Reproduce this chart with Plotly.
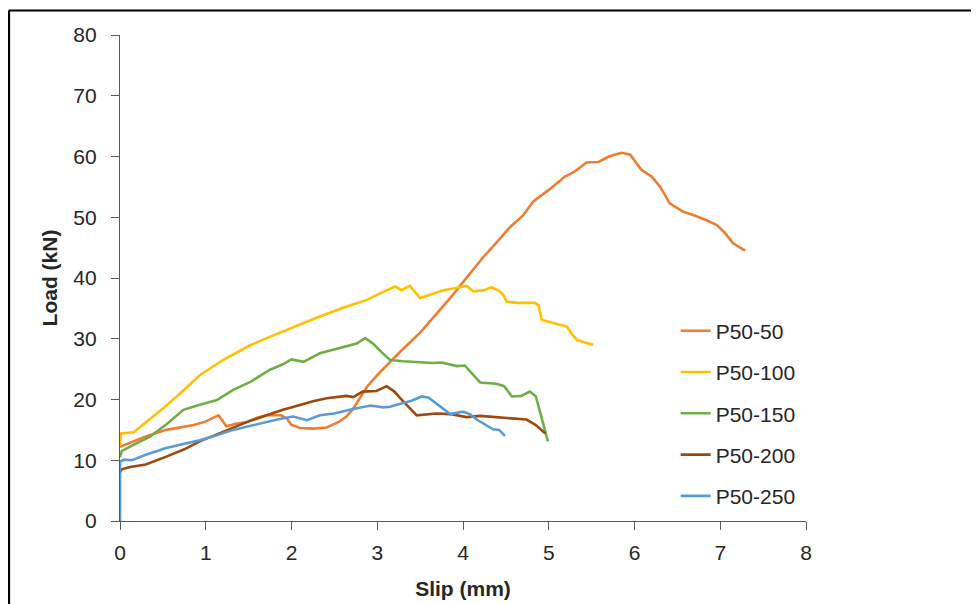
import plotly.graph_objects as go

names = ["P50-50", "P50-100", "P50-150", "P50-200", "P50-250"]
colors = ["#ED7D31", "#FFC000", "#70AD47", "#9E480E", "#5B9BD5"]

x_p50_50 = [0, 0.1, 0.3, 0.54, 0.7, 0.86, 1.0, 1.15, 1.24, 1.35, 1.48, 1.6, 1.71, 1.88, 1.95, 2.0, 2.1,
            2.25, 2.41, 2.55, 2.64, 2.72, 2.88, 3.0, 3.27, 3.5, 3.85, 4.0, 4.24, 4.4, 4.55, 4.7, 4.82,
            5.0, 5.19, 5.3, 5.44, 5.58, 5.7, 5.85, 5.95, 6.08, 6.2, 6.3, 6.41, 6.57, 6.7, 6.84, 6.96,
            7.05, 7.15, 7.29]
y_p50_50 = [12.2, 12.8, 13.9, 15.0, 15.4, 15.8, 16.4, 17.4, 15.6, 16.0, 16.3, 17.0, 17.4, 17.4, 16.8, 15.8, 15.3,
            15.2, 15.4, 16.3, 17.2, 18.5, 22.1, 24.0, 27.9, 31.0, 36.7, 39.3, 43.5, 46.0, 48.4, 50.3, 52.6,
            54.5, 56.7, 57.5, 59.0, 59.1, 60.0, 60.6, 60.3, 57.8, 56.7, 55.0, 52.3, 50.9, 50.3, 49.5, 48.7,
            47.5, 45.7, 44.5]

x_p50_100 = [0, 0.01, 0.16, 0.3, 0.5, 0.7, 0.93, 1.2, 1.5, 1.71, 2.0, 2.3, 2.6, 2.88, 3.05, 3.21, 3.28,
             3.38, 3.5, 3.65, 3.77, 3.9, 4.04, 4.12, 4.25, 4.33, 4.42, 4.47, 4.51, 4.65, 4.84, 4.88, 4.92,
             5.05, 5.21, 5.27, 5.33, 5.42, 5.52]
y_p50_100 = [12.5, 14.4, 14.6, 16.2, 18.5, 21.0, 24.0, 26.5, 28.8, 30.1, 31.8, 33.5, 35.1, 36.4, 37.6, 38.6, 38.0,
             38.7, 36.7, 37.4, 38.0, 38.3, 38.7, 37.8, 38.0, 38.5, 37.9, 37.2, 36.1, 35.9, 35.9, 35.5, 33.1,
             32.6, 32.0, 30.8, 29.8, 29.4, 29.0]

x_p50_150 = [0, 0.02, 0.15, 0.35, 0.55, 0.74, 0.9, 1.13, 1.32, 1.52, 1.75, 1.9, 2.0, 2.14, 2.33, 2.5, 2.64,
             2.76, 2.86, 2.95, 3.05, 3.15, 3.3, 3.65, 3.75, 3.93, 4.02, 4.2, 4.39, 4.48, 4.57, 4.68, 4.78,
             4.85, 4.99]
y_p50_150 = [10.5, 11.5, 12.5, 13.9, 16.0, 18.3, 19.0, 19.9, 21.6, 22.9, 24.9, 25.8, 26.6, 26.2, 27.6, 28.2, 28.7,
             29.2, 30.1, 29.2, 27.8, 26.5, 26.3, 26.0, 26.1, 25.5, 25.6, 22.8, 22.6, 22.2, 20.5, 20.6, 21.3,
             20.5, 13.1]

x_p50_200 = [0, 0.02, 0.12, 0.3, 0.54, 0.75, 0.93, 1.1, 1.32, 1.5, 1.71, 1.9, 2.1, 2.25, 2.41, 2.64, 2.72,
             2.83, 2.99, 3.11, 3.2, 3.27, 3.46, 3.69, 3.85, 4.04, 4.2, 4.43, 4.6, 4.74, 4.85, 4.96]
y_p50_200 = [8.0, 8.5, 8.9, 9.3, 10.6, 11.8, 13.1, 14.1, 15.3, 16.4, 17.4, 18.3, 19.1, 19.7, 20.2, 20.6, 20.4,
             21.3, 21.4, 22.2, 21.3, 20.2, 17.4, 17.7, 17.6, 17.1, 17.3, 17.0, 16.8, 16.7, 15.8, 14.4]

x_p50_250 = [0, 0, 0.05, 0.14, 0.3, 0.54, 0.75, 0.93, 1.1, 1.32, 1.5, 1.71, 1.9, 2.02, 2.18, 2.33, 2.5,
             2.68, 2.92, 3.07, 3.15, 3.27, 3.4, 3.52, 3.6, 3.85, 3.92, 4.0, 4.08, 4.16, 4.35, 4.42, 4.49]
y_p50_250 = [0, 9.8, 10.1, 10.0, 10.9, 12.0, 12.7, 13.3, 14.0, 15.0, 15.6, 16.3, 16.9, 17.2, 16.6, 17.4, 17.7,
             18.3, 19.0, 18.7, 18.8, 19.3, 19.8, 20.5, 20.3, 17.6, 17.8, 18.0, 17.6, 16.7, 15.1, 15.0, 14.0]

x_ticks = [0, 1, 2, 3, 4, 5, 6, 7, 8]
y_ticks = [0, 10, 20, 30, 40, 50, 60, 70, 80]

series_x = [x_p50_50, x_p50_100, x_p50_150, x_p50_200, x_p50_250]
series_y = [y_p50_50, y_p50_100, y_p50_150, y_p50_200, y_p50_250]

FONT = "Liberation Sans, Arial, sans-serif"

fig = go.Figure()
for i, (n, c, xs, ys) in enumerate(zip(names, colors, series_x, series_y)):
    fig.add_trace(go.Scatter(x=xs, y=ys, mode="lines", name=n, legendgroup=n,
                             line=dict(color=c, width=2.6)))

axis_common = dict(showgrid=False, zeroline=False, showline=True, linecolor="#595959", linewidth=1.3,
                   ticks="outside", ticklen=8, tickcolor="#595959", tickwidth=1.3,
                   tickfont=dict(family=FONT, size=21, color="#262626"))

fig.update_layout(
    width=971, height=596,
    margin=dict(l=112, r=173, t=27, b=83, autoexpand=False),
    paper_bgcolor="white", plot_bgcolor="white",
    showlegend=True,
    legend=dict(x=0.810, y=0.433, xanchor="left", yanchor="top",
                font=dict(family=FONT, size=21, color="#262626"),
                tracegroupgap=11, bgcolor="rgba(0,0,0,0)"),
    xaxis=dict(range=[0, 8], tickvals=x_ticks, ticklabelstandoff=5,
               title=dict(text="Slip (mm)", standoff=17,
                          font=dict(family=FONT, size=21, color="#262626", weight="bold")),
               **axis_common),
    yaxis=dict(range=[0, 80], tickvals=y_ticks, ticklabelstandoff=10,
               title=dict(text="Load (kN)", standoff=9,
                          font=dict(family=FONT, size=21, color="#262626", weight="bold")),
               **axis_common),
    shapes=[
        dict(type="line", xref="paper", yref="paper", x0=-0.162, x1=1.26,
             y0=1.0504, y1=1.0504, line=dict(color="black", width=2.2)),
        dict(type="line", xref="paper", yref="paper", x0=-0.1618, x1=-0.1618,
             y0=1.0504, y1=-0.2, line=dict(color="black", width=2.2)),
    ],
)

fig.write_html("out.html")
